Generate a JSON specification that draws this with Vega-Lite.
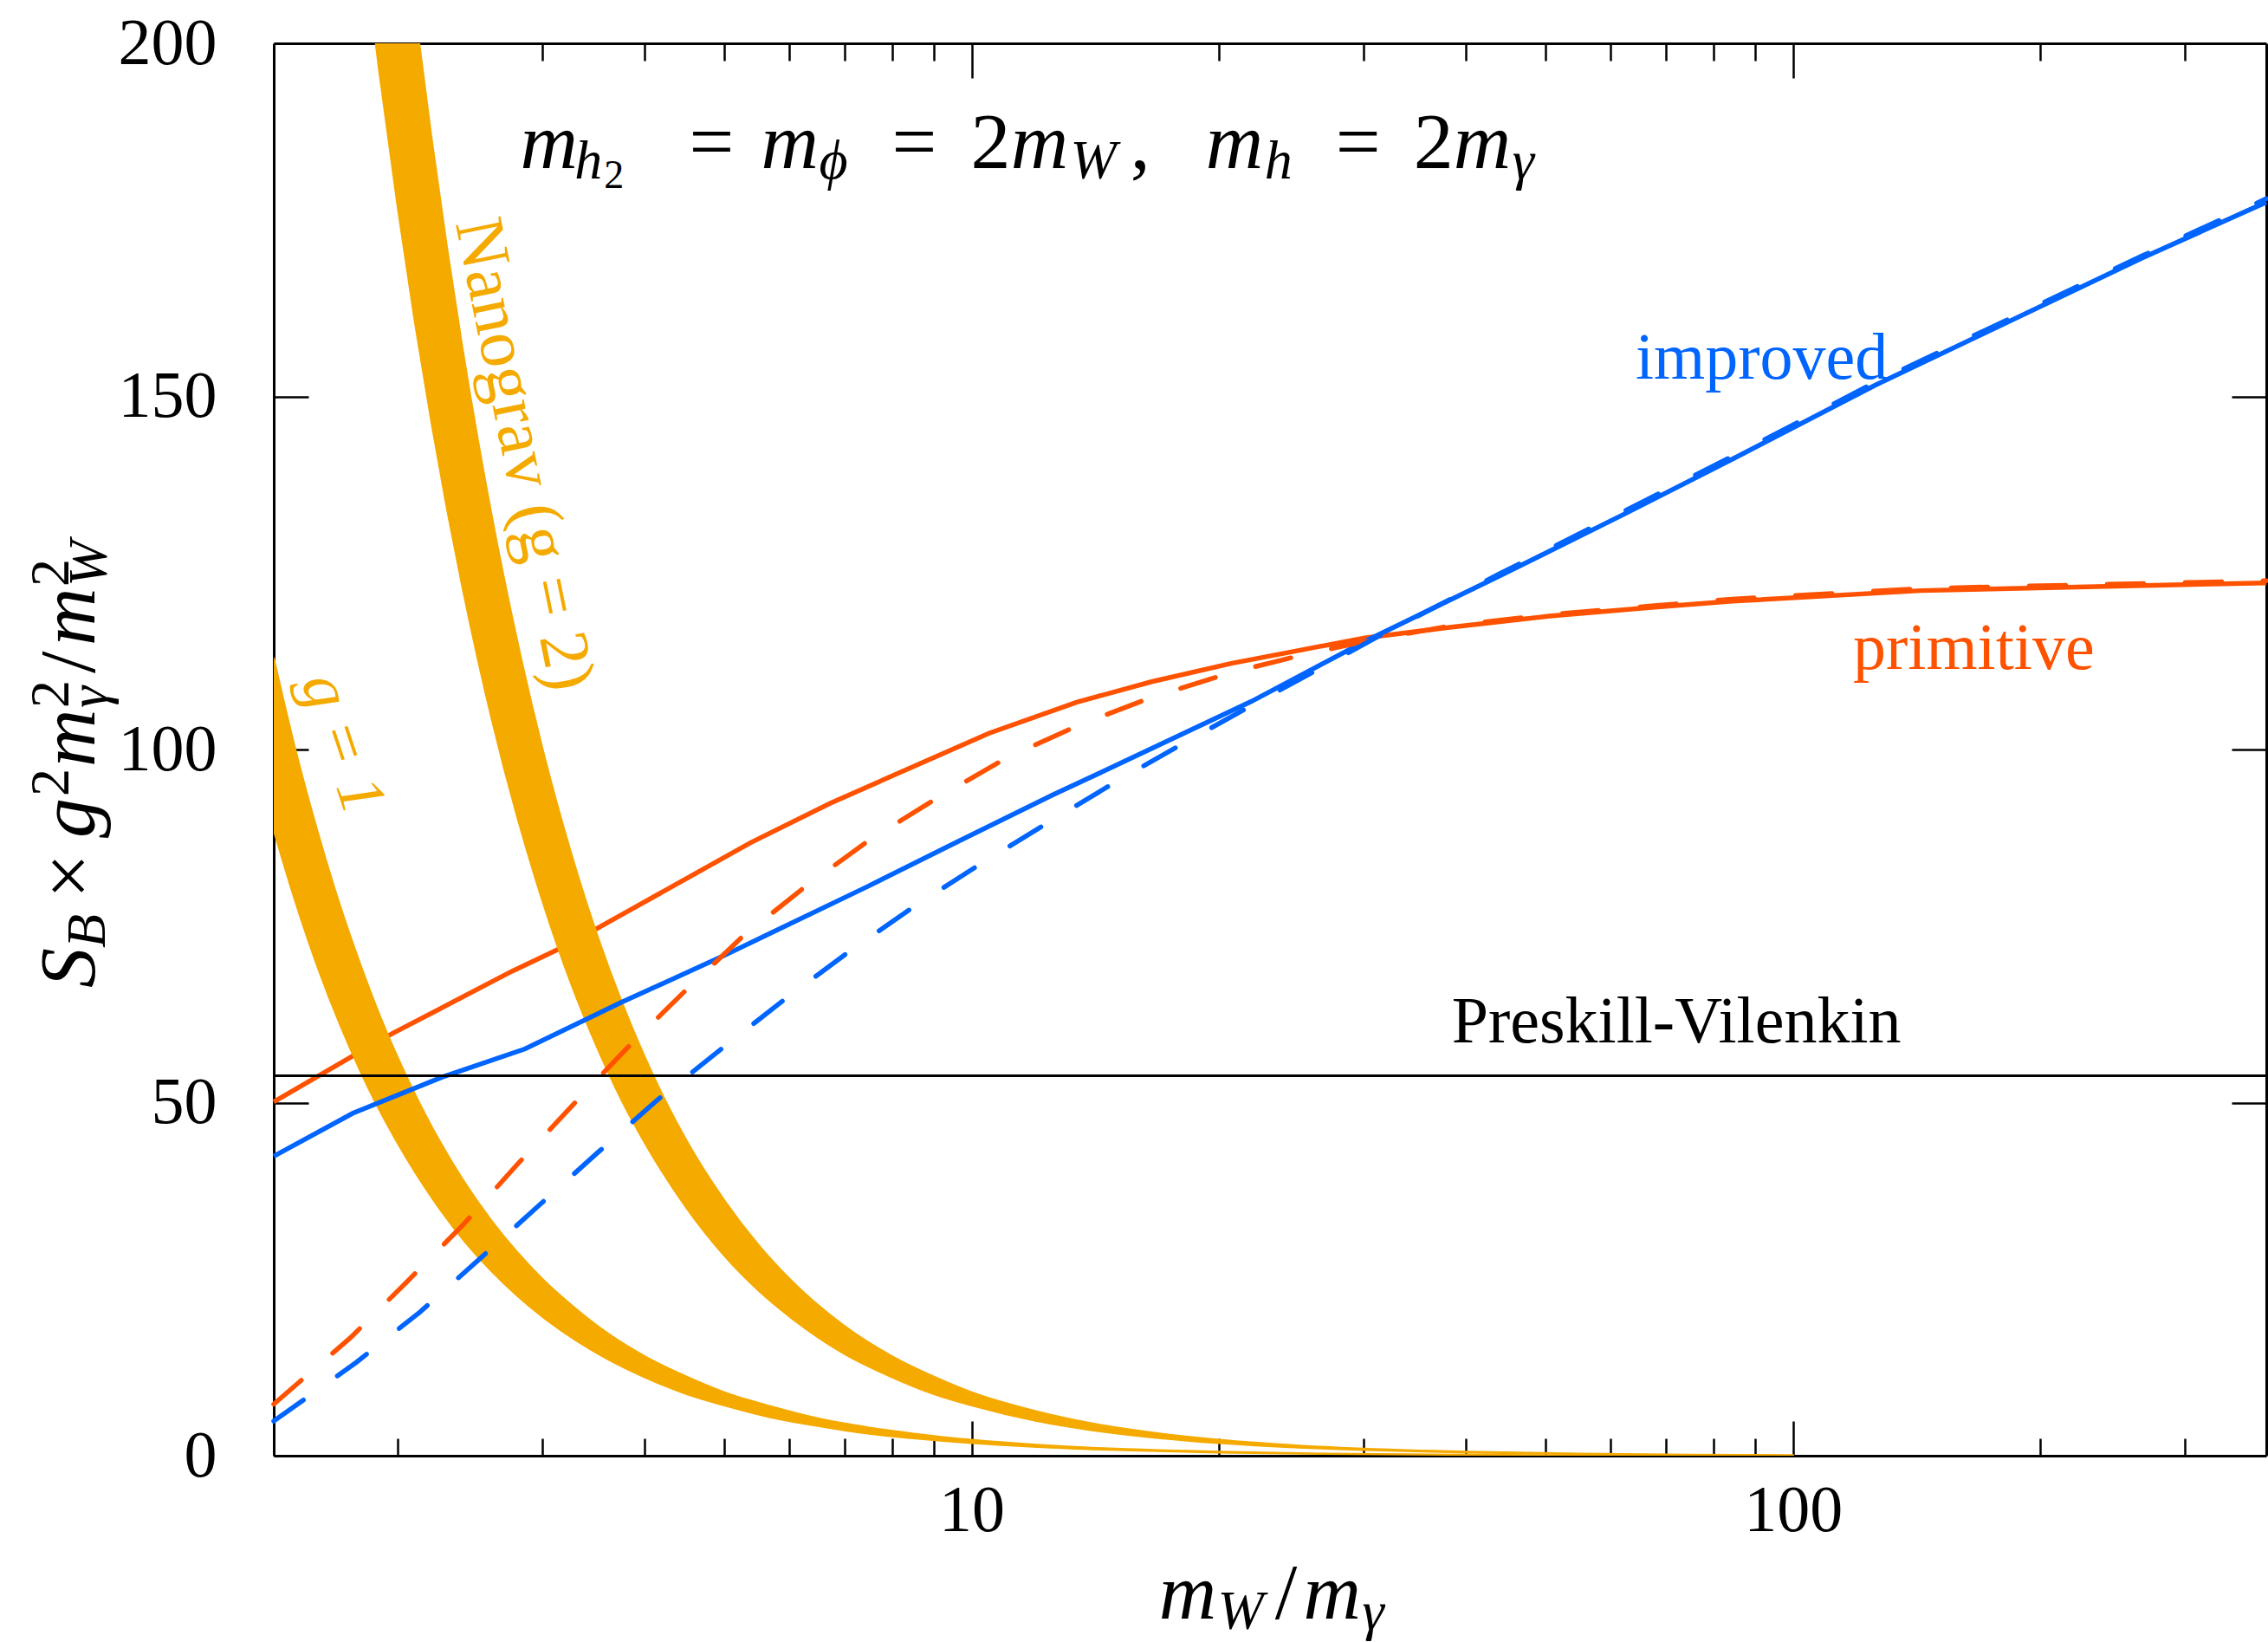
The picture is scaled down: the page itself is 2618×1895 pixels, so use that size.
{
  "$schema": "https://vega.github.io/schema/vega-lite/v6.json",
  "width": 2300,
  "height": 1630,
  "autosize": {"type": "none"},
  "padding": {"left": 316, "top": 50, "right": 2, "bottom": 215},
  "background": "white",
  "config": {"view": {"stroke": null}, "font": "Liberation Serif"},
  "datasets": {
    "redSolid": [
      {"x": 1.4142, "y": 50.1}, {"x": 1.765, "y": 56.6}, {"x": 1.973, "y": 59.8}, {"x": 2.757, "y": 68.6},
      {"x": 3.23, "y": 72.4}, {"x": 3.75, "y": 76.6}, {"x": 5.38, "y": 86.8}, {"x": 6.73, "y": 92.4}, {"x": 10.5, "y": 102.3},
      {"x": 13.43, "y": 106.7}, {"x": 16.56, "y": 109.6}, {"x": 20.7, "y": 112.2}, {"x": 25.2, "y": 114.1},
      {"x": 30.1, "y": 115.8}, {"x": 38.2, "y": 117.3}, {"x": 50.5, "y": 118.9}, {"x": 66.8, "y": 120.1},
      {"x": 84.3, "y": 121.0}, {"x": 143, "y": 122.5}, {"x": 376.7, "y": 123.6}
    ],
    "redDashed": [
      {"x": 1.4142, "y": 7.3}, {"x": 1.753, "y": 16.7}, {"x": 2.057, "y": 24.7}, {"x": 2.409, "y": 32.8},
      {"x": 2.796, "y": 41.2}, {"x": 3.26, "y": 49.5}, {"x": 3.805, "y": 57.7}, {"x": 4.46, "y": 65.6},
      {"x": 5.25, "y": 73.4}, {"x": 6.26, "y": 80.5}, {"x": 7.49, "y": 87.1}, {"x": 9.07, "y": 93.1},
      {"x": 10.98, "y": 98.7}, {"x": 13.47, "y": 103.4}, {"x": 16.58, "y": 107.4}, {"x": 20.55, "y": 110.8},
      {"x": 25.5, "y": 113.5}, {"x": 31, "y": 115.6}, {"x": 38.2, "y": 117.5}, {"x": 50.5, "y": 119.1},
      {"x": 66.8, "y": 120.3}, {"x": 84.3, "y": 121.3}, {"x": 143, "y": 122.8}, {"x": 376.7, "y": 123.9}
    ],
    "blueSolid": [
      {"x": 1.4142, "y": 42.4}, {"x": 1.765, "y": 48.5}, {"x": 2.267, "y": 53.6}, {"x": 2.86, "y": 57.6},
      {"x": 3.747, "y": 64.2}, {"x": 4.95, "y": 70.6}, {"x": 5.69, "y": 74.0}, {"x": 7.47, "y": 80.6},
      {"x": 9.48, "y": 86.6}, {"x": 12.56, "y": 93.6}, {"x": 14.4, "y": 96.8}, {"x": 21.9, "y": 106.8},
      {"x": 30.1, "y": 115.3}, {"x": 43.95, "y": 124.6}, {"x": 62.2, "y": 133.3}, {"x": 84.3, "y": 141.1},
      {"x": 125.9, "y": 151.6}, {"x": 266, "y": 169.6}, {"x": 376.7, "y": 177.5}
    ],
    "blueDashed": [
      {"x": 1.4142, "y": 4.9}, {"x": 1.784, "y": 13.25}, {"x": 2.128, "y": 20.3}, {"x": 2.515, "y": 27.8},
      {"x": 2.965, "y": 35.3}, {"x": 3.504, "y": 42.9}, {"x": 4.147, "y": 50.4}, {"x": 4.946, "y": 57.5},
      {"x": 5.887, "y": 64.4}, {"x": 7.058, "y": 71.2}, {"x": 8.47, "y": 77.6}, {"x": 10.22, "y": 83.7},
      {"x": 12.41, "y": 89.7}, {"x": 15.02, "y": 95.5}, {"x": 18.25, "y": 101.1}, {"x": 22.2, "y": 106.6},
      {"x": 27.04, "y": 112.0}, {"x": 31, "y": 115.8}, {"x": 43.95, "y": 124.9}, {"x": 62.2, "y": 133.7},
      {"x": 84.3, "y": 141.5}, {"x": 125.9, "y": 152.0}, {"x": 266, "y": 169.9}, {"x": 376.7, "y": 178.0}
    ],
    "band1": [
      {"x": 1.4142, "lo": 88.5, "hi": 113.0}, {"x": 1.5, "lo": 78.7, "hi": 100.4}, {"x": 1.6, "lo": 69.1, "hi": 88.3},
      {"x": 1.7, "lo": 61.2, "hi": 78.2}, {"x": 1.8, "lo": 54.6, "hi": 69.8}, {"x": 1.9, "lo": 49.0, "hi": 62.6},
      {"x": 2.0, "lo": 44.3, "hi": 56.5}, {"x": 2.2, "lo": 36.6, "hi": 46.7}, {"x": 2.4, "lo": 30.7, "hi": 39.2},
      {"x": 2.6, "lo": 26.2, "hi": 33.4}, {"x": 2.8, "lo": 22.6, "hi": 28.8}, {"x": 3.0, "lo": 19.7, "hi": 25.1},
      {"x": 3.3, "lo": 16.3, "hi": 20.8}, {"x": 3.6, "lo": 13.7, "hi": 17.4}, {"x": 4.0, "lo": 11.1, "hi": 14.1},
      {"x": 4.5, "lo": 8.7, "hi": 11.2}, {"x": 5.0, "lo": 7.1, "hi": 9.0}, {"x": 5.7, "lo": 5.4, "hi": 7.0},
      {"x": 6.5, "lo": 4.2, "hi": 5.3}, {"x": 7.5, "lo": 3.1, "hi": 4.0}, {"x": 8.5, "lo": 2.45, "hi": 3.13},
      {"x": 10, "lo": 1.77, "hi": 2.26}, {"x": 12, "lo": 1.23, "hi": 1.57}, {"x": 15, "lo": 0.79, "hi": 1.0},
      {"x": 20, "lo": 0.44, "hi": 0.57}, {"x": 27, "lo": 0.24, "hi": 0.31}, {"x": 40, "lo": 0.11, "hi": 0.14},
      {"x": 60, "lo": 0.05, "hi": 0.063}, {"x": 90, "lo": 0.022, "hi": 0.028}
    ],
    "band2": [
      {"x": 1.85, "lo": 206.9, "hi": 264.1}, {"x": 1.9, "lo": 196.1, "hi": 250.4}, {"x": 2.0, "lo": 177.0, "hi": 226.0},
      {"x": 2.1, "lo": 160.5, "hi": 205.0}, {"x": 2.2, "lo": 146.3, "hi": 186.8}, {"x": 2.3, "lo": 133.8, "hi": 170.9},
      {"x": 2.4, "lo": 122.9, "hi": 156.9}, {"x": 2.6, "lo": 104.7, "hi": 133.7}, {"x": 2.8, "lo": 90.3, "hi": 115.3},
      {"x": 3.0, "lo": 78.7, "hi": 100.4}, {"x": 3.25, "lo": 67.0, "hi": 85.6}, {"x": 3.5, "lo": 57.8, "hi": 73.8},
      {"x": 3.75, "lo": 50.3, "hi": 64.3}, {"x": 4.0, "lo": 44.3, "hi": 56.5}, {"x": 4.5, "lo": 35.0, "hi": 44.6},
      {"x": 5.0, "lo": 28.3, "hi": 36.2}, {"x": 5.5, "lo": 23.4, "hi": 29.9}, {"x": 6.0, "lo": 19.7, "hi": 25.1},
      {"x": 7.0, "lo": 14.4, "hi": 18.4}, {"x": 8.0, "lo": 11.1, "hi": 14.1}, {"x": 9.0, "lo": 8.7, "hi": 11.2},
      {"x": 10, "lo": 7.1, "hi": 9.0}, {"x": 12, "lo": 4.9, "hi": 6.3}, {"x": 14, "lo": 3.6, "hi": 4.6},
      {"x": 17, "lo": 2.45, "hi": 3.13}, {"x": 20, "lo": 1.77, "hi": 2.26}, {"x": 25, "lo": 1.13, "hi": 1.45},
      {"x": 30, "lo": 0.79, "hi": 1.0}, {"x": 40, "lo": 0.44, "hi": 0.57}, {"x": 55, "lo": 0.23, "hi": 0.30},
      {"x": 75, "lo": 0.13, "hi": 0.16}, {"x": 100, "lo": 0.07, "hi": 0.09}
    ]
  },
  "resolve": {"axis": {"x": "independent", "y": "independent"}},
  "layer": [
    {
      "data": {"name": "redSolid"},
      "mark": {"type": "line", "color": "#FF5200", "strokeWidth": 5.5},
      "encoding": {
        "x": {"field": "x", "type": "quantitative", "scale": {"type": "log", "domain": [1.4142, 376.7], "nice": false},
          "axis": {"orient": "bottom", "values": [2,3,4,5,6,7,8,9,20,30,40,50,60,70,80,90,200,300], "tickSize": -20, "tickWidth": 2.5, "tickColor": "black", "labels": false, "domain": false, "grid": false, "title": null}},
        "y": {"field": "y", "type": "quantitative", "scale": {"domain": [0, 200], "nice": false, "zero": false},
          "axis": {"orient": "right", "values": [50, 100, 150], "tickSize": -40, "tickWidth": 2.5, "tickColor": "black", "labels": false, "domain": true, "domainColor": "black", "domainWidth": 3, "grid": false, "title": null}}
      }
    },
    {
      "data": {"name": "band1"},
      "mark": {"type": "area", "color": "#F5AA00", "stroke": "#F5AA00", "strokeWidth": 2, "interpolate": "monotone", "clip": true},
      "encoding": {
        "x": {"field": "x", "type": "quantitative", "scale": {"type": "log", "domain": [1.4142, 376.7], "nice": false}, "axis": null},
        "y": {"field": "lo", "type": "quantitative", "scale": {"domain": [0, 200], "nice": false, "zero": false}, "axis": null},
        "y2": {"field": "hi"}
      }
    },
    {
      "data": {"name": "band2"},
      "mark": {"type": "area", "color": "#F5AA00", "stroke": "#F5AA00", "strokeWidth": 2, "interpolate": "monotone", "clip": true},
      "encoding": {
        "x": {"field": "x", "type": "quantitative", "scale": {"type": "log", "domain": [1.4142, 376.7], "nice": false}, "axis": null},
        "y": {"field": "lo", "type": "quantitative", "scale": {"domain": [0, 200], "nice": false, "zero": false}, "axis": null},
        "y2": {"field": "hi"}
      }
    },
    {
      "data": {"name": "blueSolid"},
      "mark": {"type": "line", "color": "#0064FF", "strokeWidth": 5.5},
      "encoding": {
        "x": {"field": "x", "type": "quantitative", "scale": {"type": "log", "domain": [1.4142, 376.7], "nice": false},
          "axis": {"orient": "bottom", "values": [10, 100], "format": "d", "tickSize": -40, "tickWidth": 2.5, "tickColor": "black", "domain": true, "domainColor": "black", "domainWidth": 3, "labels": true, "labelFont": "Liberation Serif", "labelFontSize": 76, "labelColor": "black", "labelPadding": 66, "labelFlush": false, "labelOverlap": false, "labelBound": false, "grid": false, "title": null}},
        "y": {"field": "y", "type": "quantitative", "scale": {"domain": [0, 200], "nice": false, "zero": false},
          "axis": {"orient": "left", "values": [0, 50, 100, 150, 200], "format": "d", "tickSize": -40, "tickWidth": 2.5, "tickColor": "black", "domain": true, "domainColor": "black", "domainWidth": 3, "labels": true, "labelFont": "Liberation Serif", "labelFontSize": 76, "labelColor": "black", "labelPadding": 106, "labelFlush": false, "labelOverlap": false, "labelBound": false, "grid": false, "title": null}}
      }
    },
    {
      "data": {"name": "redDashed"},
      "mark": {"type": "line", "color": "#FF5200", "strokeWidth": 5.5, "strokeDash": [42, 48], "strokeCap": "round"},
      "encoding": {
        "x": {"field": "x", "type": "quantitative", "scale": {"type": "log", "domain": [1.4142, 376.7], "nice": false},
          "axis": {"orient": "top", "values": [10, 100], "tickSize": -40, "tickWidth": 2.5, "tickColor": "black", "labels": false, "domain": true, "domainColor": "black", "domainWidth": 3, "grid": false, "title": null}},
        "y": {"field": "y", "type": "quantitative", "scale": {"domain": [0, 200], "nice": false, "zero": false}, "axis": null}
      }
    },
    {
      "data": {"name": "blueDashed"},
      "mark": {"type": "line", "color": "#0064FF", "strokeWidth": 5.5, "strokeDash": [42, 48], "strokeCap": "round"},
      "encoding": {
        "x": {"field": "x", "type": "quantitative", "scale": {"type": "log", "domain": [1.4142, 376.7], "nice": false},
          "axis": {"orient": "top", "values": [2,3,4,5,6,7,8,9,20,30,40,50,60,70,80,90,200,300], "tickSize": -20, "tickWidth": 2.5, "tickColor": "black", "labels": false, "domain": false, "grid": false, "title": null}},
        "y": {"field": "y", "type": "quantitative", "scale": {"domain": [0, 200], "nice": false, "zero": false}, "axis": null}
      }
    },
    {
      "data": {"values": [{"y": 53.8}]},
      "mark": {"type": "rule", "color": "black", "strokeWidth": 3},
      "encoding": {
        "y": {"field": "y", "type": "quantitative", "scale": {"domain": [0, 200], "nice": false, "zero": false}, "axis": null}
      }
    },
    {
      "data": {"values": [
        {"t": "m", "x": 2.821, "y": 182.3}, {"t": "m", "x": 5.542, "y": 182.3}, {"t": "m", "x": 11.16, "y": 182.3},
        {"t": "m", "x": 19.27, "y": 182.3}, {"t": "m", "x": 38.59, "y": 182.3},
        {"t": "m", "x": 16.90, "y": -23.1}, {"t": "m", "x": 25.35, "y": -23.1}
      ]},
      "mark": {"type": "text", "font": "Liberation Serif", "fontStyle": "italic", "fontSize": 92, "align": "left", "baseline": "alphabetic", "color": "black"},
      "encoding": {
        "x": {"field": "x", "type": "quantitative", "scale": {"type": "log", "domain": [1.4142, 376.7], "nice": false}, "axis": null},
        "y": {"field": "y", "type": "quantitative", "scale": {"domain": [0, 200], "nice": false, "zero": false}, "axis": null},
        "text": {"field": "t"}
      }
    },
    {
      "data": {"values": [
        {"t": "2", "x": 9.975, "y": 182.3}, {"t": ",", "x": 15.60, "y": 182.3}, {"t": "2", "x": 34.51, "y": 182.3},
        {"t": "/", "x": 23.40, "y": -23.1}
      ]},
      "mark": {"type": "text", "font": "Liberation Serif", "fontSize": 92, "align": "left", "baseline": "alphabetic", "color": "black"},
      "encoding": {
        "x": {"field": "x", "type": "quantitative", "scale": {"type": "log", "domain": [1.4142, 376.7], "nice": false}, "axis": null},
        "y": {"field": "y", "type": "quantitative", "scale": {"domain": [0, 200], "nice": false, "zero": false}, "axis": null},
        "text": {"field": "t"}
      }
    },
    {
      "data": {"values": [
        {"t": "=", "x": 4.826, "y": 182.3}, {"t": "=", "x": 8.519, "y": 182.3}, {"t": "=", "x": 29.54, "y": 182.3}
      ]},
      "mark": {"type": "text", "font": "Liberation Serif", "fontSize": 92, "align": "center", "baseline": "alphabetic", "color": "black"},
      "encoding": {
        "x": {"field": "x", "type": "quantitative", "scale": {"type": "log", "domain": [1.4142, 376.7], "nice": false}, "axis": null},
        "y": {"field": "y", "type": "quantitative", "scale": {"domain": [0, 200], "nice": false, "zero": false}, "axis": null},
        "text": {"field": "t"}
      }
    },
    {
      "data": {"values": [
        {"t": "h", "x": 3.287, "y": 180.9}, {"t": "ϕ", "x": 6.52, "y": 180.9}, {"t": "W", "x": 13.19, "y": 180.9},
        {"t": "h", "x": 22.73, "y": 180.9}, {"t": "γ", "x": 45.52, "y": 180.9},
        {"t": "W", "x": 19.93, "y": -24.5}, {"t": "γ", "x": 29.9, "y": -24.5}
      ]},
      "mark": {"type": "text", "font": "Liberation Serif", "fontStyle": "italic", "fontSize": 64, "align": "left", "baseline": "alphabetic", "color": "black"},
      "encoding": {
        "x": {"field": "x", "type": "quantitative", "scale": {"type": "log", "domain": [1.4142, 376.7], "nice": false}, "axis": null},
        "y": {"field": "y", "type": "quantitative", "scale": {"domain": [0, 200], "nice": false, "zero": false}, "axis": null},
        "text": {"field": "t"}
      }
    },
    {
      "data": {"values": [{"t": "2", "x": 3.57, "y": 179.5}]},
      "mark": {"type": "text", "font": "Liberation Serif", "fontSize": 46, "align": "left", "baseline": "alphabetic", "color": "black"},
      "encoding": {
        "x": {"field": "x", "type": "quantitative", "scale": {"type": "log", "domain": [1.4142, 376.7], "nice": false}, "axis": null},
        "y": {"field": "y", "type": "quantitative", "scale": {"domain": [0, 200], "nice": false, "zero": false}, "axis": null},
        "text": {"field": "t"}
      }
    },
    {
      "data": {"values": [
        {"t": "S", "x": 0.8559, "y": 66.26}, {"t": "g", "x": 0.8559, "y": 87.48},
        {"t": "m", "x": 0.8559, "y": 97.55}, {"t": "m", "x": 0.8559, "y": 114.72}
      ]},
      "mark": {"type": "text", "font": "Liberation Serif", "fontStyle": "italic", "fontSize": 92, "align": "left", "baseline": "alphabetic", "angle": -90, "color": "black"},
      "encoding": {
        "x": {"field": "x", "type": "quantitative", "scale": {"type": "log", "domain": [1.4142, 376.7], "nice": false}, "axis": null},
        "y": {"field": "y", "type": "quantitative", "scale": {"domain": [0, 200], "nice": false, "zero": false}, "axis": null},
        "text": {"field": "t"}
      }
    },
    {
      "data": {"values": [
        {"t": "×", "x": 0.8559, "y": 78.90}, {"t": "/", "x": 0.8559, "y": 110.80}
      ]},
      "mark": {"type": "text", "font": "Liberation Serif", "fontSize": 92, "align": "left", "baseline": "alphabetic", "angle": -90, "color": "black"},
      "encoding": {
        "x": {"field": "x", "type": "quantitative", "scale": {"type": "log", "domain": [1.4142, 376.7], "nice": false}, "axis": null},
        "y": {"field": "y", "type": "quantitative", "scale": {"domain": [0, 200], "nice": false, "zero": false}, "axis": null},
        "text": {"field": "t"}
      }
    },
    {
      "data": {"values": [
        {"t": "B", "x": 0.8812, "y": 71.90}, {"t": "γ", "x": 0.8856, "y": 105.89}, {"t": "W", "x": 0.8856, "y": 123.07}
      ]},
      "mark": {"type": "text", "font": "Liberation Serif", "fontStyle": "italic", "fontSize": 64, "align": "left", "baseline": "alphabetic", "angle": -90, "color": "black"},
      "encoding": {
        "x": {"field": "x", "type": "quantitative", "scale": {"type": "log", "domain": [1.4142, 376.7], "nice": false}, "axis": null},
        "y": {"field": "y", "type": "quantitative", "scale": {"domain": [0, 200], "nice": false, "zero": false}, "axis": null},
        "text": {"field": "t"}
      }
    },
    {
      "data": {"values": [
        {"t": "2", "x": 0.7957, "y": 93.37}, {"t": "2", "x": 0.7957, "y": 105.89}, {"t": "2", "x": 0.7957, "y": 123.07}
      ]},
      "mark": {"type": "text", "font": "Liberation Serif", "fontSize": 64, "align": "left", "baseline": "alphabetic", "angle": -90, "color": "black"},
      "encoding": {
        "x": {"field": "x", "type": "quantitative", "scale": {"type": "log", "domain": [1.4142, 376.7], "nice": false}, "axis": null},
        "y": {"field": "y", "type": "quantitative", "scale": {"domain": [0, 200], "nice": false, "zero": false}, "axis": null},
        "text": {"field": "t"}
      }
    },
    {
      "data": {"values": [{"t": "improved", "x": 64.3, "y": 152.5}]},
      "mark": {"type": "text", "font": "Liberation Serif", "fontSize": 76, "align": "left", "baseline": "alphabetic", "color": "#0064FF"},
      "encoding": {
        "x": {"field": "x", "type": "quantitative", "scale": {"type": "log", "domain": [1.4142, 376.7], "nice": false}, "axis": null},
        "y": {"field": "y", "type": "quantitative", "scale": {"domain": [0, 200], "nice": false, "zero": false}, "axis": null},
        "text": {"field": "t"}
      }
    },
    {
      "data": {"values": [{"t": "primitive", "x": 118.3, "y": 111.4}]},
      "mark": {"type": "text", "font": "Liberation Serif", "fontSize": 76, "align": "left", "baseline": "alphabetic", "color": "#FF5200"},
      "encoding": {
        "x": {"field": "x", "type": "quantitative", "scale": {"type": "log", "domain": [1.4142, 376.7], "nice": false}, "axis": null},
        "y": {"field": "y", "type": "quantitative", "scale": {"domain": [0, 200], "nice": false, "zero": false}, "axis": null},
        "text": {"field": "t"}
      }
    },
    {
      "data": {"values": [{"t": "Preskill-Vilenkin", "x": 38.4, "y": 58.5}]},
      "mark": {"type": "text", "font": "Liberation Serif", "fontSize": 76, "align": "left", "baseline": "alphabetic", "color": "black"},
      "encoding": {
        "x": {"field": "x", "type": "quantitative", "scale": {"type": "log", "domain": [1.4142, 376.7], "nice": false}, "axis": null},
        "y": {"field": "y", "type": "quantitative", "scale": {"domain": [0, 200], "nice": false, "zero": false}, "axis": null},
        "text": {"field": "t"}
      }
    },
    {
      "data": {"values": [{"t": "Nanograv (g = 2)", "x": 2.849, "y": 141.8}]},
      "mark": {"type": "text", "font": "Liberation Serif", "fontSize": 80, "align": "center", "baseline": "middle", "angle": 78.5, "color": "#F5AA00"},
      "encoding": {
        "x": {"field": "x", "type": "quantitative", "scale": {"type": "log", "domain": [1.4142, 376.7], "nice": false}, "axis": null},
        "y": {"field": "y", "type": "quantitative", "scale": {"domain": [0, 200], "nice": false, "zero": false}, "axis": null},
        "text": {"field": "t"}
      }
    },
    {
      "data": {"values": [{"t": "g = 1", "x": 1.715, "y": 100.9}]},
      "mark": {"type": "text", "font": "Liberation Serif", "fontStyle": "italic", "fontSize": 76, "align": "center", "baseline": "middle", "angle": 71.7, "color": "#F5AA00"},
      "encoding": {
        "x": {"field": "x", "type": "quantitative", "scale": {"type": "log", "domain": [1.4142, 376.7], "nice": false}, "axis": null},
        "y": {"field": "y", "type": "quantitative", "scale": {"domain": [0, 200], "nice": false, "zero": false}, "axis": null},
        "text": {"field": "t"}
      }
    }
  ]
}
